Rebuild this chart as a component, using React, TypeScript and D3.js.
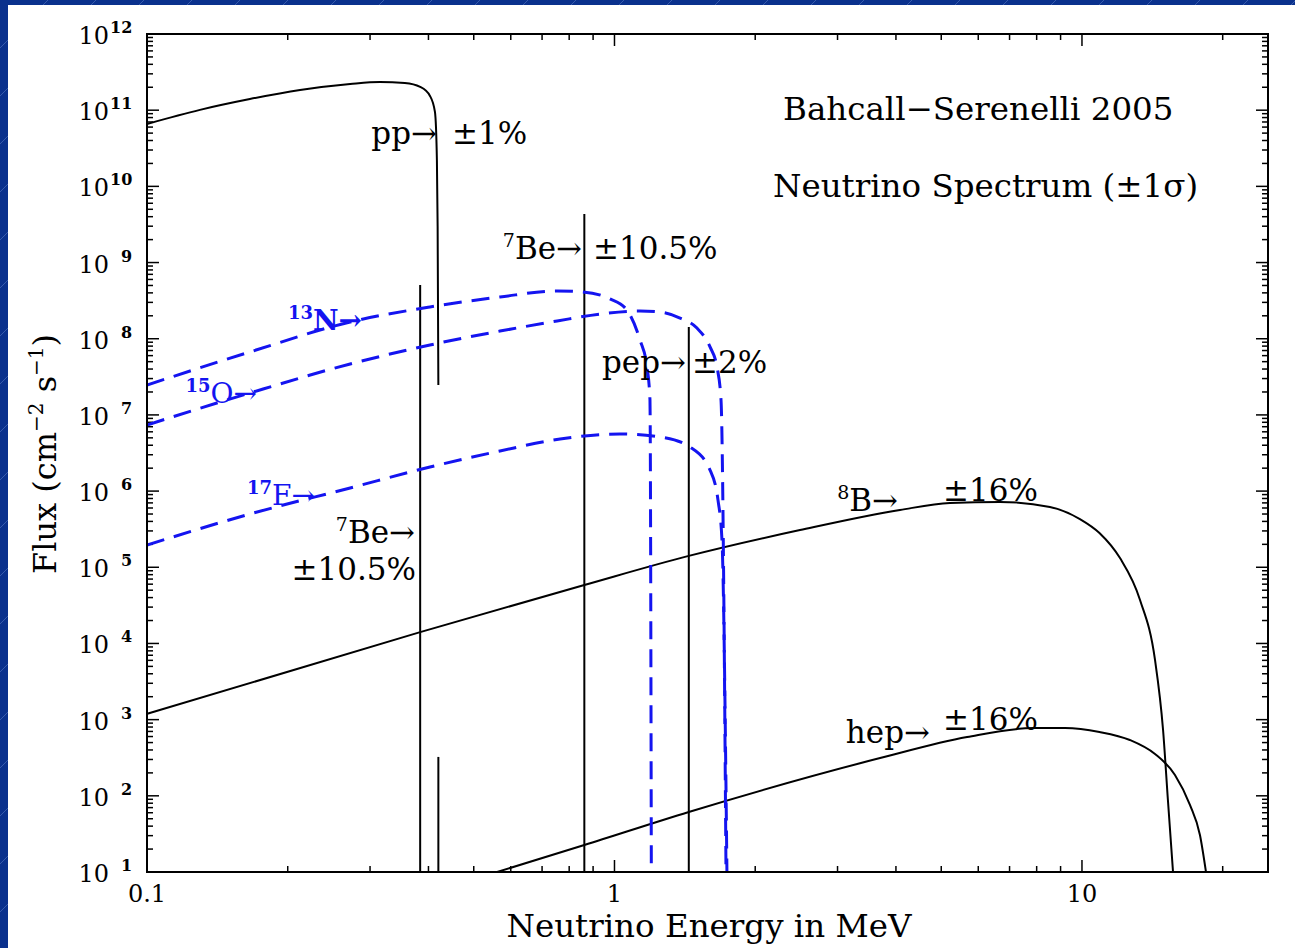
import React from 'react';
import * as d3 from 'd3';

const W = 1295;
const H = 948;

// Energies in MeV, fluxes in cm^-2 s^-1 (MeV^-1 for continuum sources)
const ppSpectrum: [number, number][] = [
  [0.1, 6.6e10], [0.1298, 1.01e11], [0.166, 1.4e11], [0.2125, 1.84e11], [0.272, 2.21e11], [0.315, 2.35e11],
  [0.356, 2.27e11], [0.384, 2.02e11], [0.403, 1.54e11], [0.413, 9.5e10], [0.417, 2.2e10], [0.4185, 3e9], [0.42, 2.47e7],
];
const ppTail: [number, number][] = [[0.42, 324], [0.42, 10]];
const n13Spectrum: [number, number][] = [
  [0.1, 2.47e7], [0.166, 6.7e7], [0.272, 1.66e8], [0.403, 2.61e8], [0.569, 3.53e8], [0.754, 4.24e8],
  [0.856, 4.11e8], [0.978, 3.33e8], [1.063, 2.38e8], [1.134, 9.6e7], [1.174, 4.25e7], [1.191, 1.57e7], [1.199, 10],
];
const o15Spectrum: [number, number][] = [
  [0.1, 7.38e6], [0.166, 1.94e7], [0.272, 4.66e7], [0.403, 8.28e7], [0.569, 1.26e8], [0.754, 1.71e8],
  [0.931, 2.11e8], [1.134, 2.31e8], [1.251, 2.24e8], [1.381, 1.87e8], [1.501, 1.38e8], [1.601, 7.8e7],
  [1.657, 4.25e7], [1.69, 1.57e7], [1.732, 10],
];
const f17Spectrum: [number, number][] = [
  [0.1, 1.96e5], [0.166, 5.0e5], [0.272, 1.1e6], [0.403, 2.07e6], [0.569, 3.36e6], [0.765, 4.83e6],
  [1.027, 5.62e6], [1.251, 5.13e6], [1.45, 3.79e6], [1.601, 1.89e6], [1.665, 7.6e5], [1.698, 2.28e5], [1.74, 10],
];
const b8Spectrum: [number, number][] = [
  [0.1, 1.19e3], [0.384, 1.41e4], [0.862, 5.85e4], [1.442, 1.41e5], [2.494, 3.08e5], [4.08, 5.65e5],
  [5.22, 6.98e5], [6.68, 7.2e5], [8.54, 6.18e5], [9.9, 4.3e5], [10.9, 2.82e5], [12.06, 1.32e5],
  [13.31, 3.72e4], [14.33, 6.07e3], [14.91, 731], [15.27, 88], [15.66, 10],
];
const hepSpectrum: [number, number][] = [
  [0.561, 10], [0.862, 22.6], [1.442, 61.4], [3.7, 313], [5.68, 591], [7.86, 776], [9.2, 776], [10.9, 689],
  [12.66, 541], [14.33, 354], [15.81, 188], [17.02, 76], [17.88, 30.6], [18.42, 10],
];
// Mono-energetic lines: [energy, flux]
const lineSources: [number, number][] = [
  [0.384, 5.07e8], [0.862, 4.34e9], [1.442, 1.43e8],
];
const yExponents = [1, 2, 3, 4, 5, 6, 7, 8, 9, 10, 11, 12];
const xTickLabels: [number, string][] = [[0.1, '0.1'], [1, '1'], [10, '10']];

const L = 147, R = 1268, T = 34, B = 872;
const BLUE = '#1414f0';
const FONT = "'DejaVu Serif', serif";

export default function App() {
  const x = d3.scaleLog().domain([0.1, 25]).range([L, R]);
  const y = d3.scaleLog().domain([10, 1e12]).range([B, T]);
  const line = d3.line<[number, number]>().x(d => x(d[0])).y(d => y(d[1])).curve(d3.curveMonotoneX);
  const straight = d3.line<[number, number]>().x(d => x(d[0])).y(d => y(d[1]));

  const xTicks: { v: number; major: boolean }[] = [];
  [0.1, 1, 10].forEach(d => {
    for (let k = 1; k <= 9; k++) {
      const v = k * d;
      if (v >= 0.1 && v <= 25) xTicks.push({ v, major: k === 1 });
    }
  });
  const yTicks: { v: number; major: boolean }[] = [];
  for (let e = 1; e <= 11; e++) {
    for (let k = 1; k <= 9; k++) yTicks.push({ v: k * Math.pow(10, e), major: k === 1 });
  }
  yTicks.push({ v: 1e12, major: true });

  const sup = (s: string, size: number, up: number, weight = 'normal') => (
    <tspan fontSize={size} dy={-up} fontWeight={weight}>{s}</tspan>
  );

  return (
    <div style={{ position: 'absolute', left: 0, top: 0 }}>
      <svg width={W} height={H} viewBox={`0 0 ${W} ${H}`} fontFamily={FONT}>
        <defs>
          <pattern id="bgp" width="48" height="48" patternUnits="userSpaceOnUse">
            <rect width="48" height="48" fill="#0a318d" />
            <path d="M0,48 L48,0" stroke="#5b7bc4" strokeWidth="0.8" opacity="0.7" />
          </pattern>
          <clipPath id="plotclip">
            <rect x={L} y={T} width={R - L} height={B - T} />
          </clipPath>
        </defs>
        <rect x={0} y={0} width={W} height={H} fill="url(#bgp)" />
        <rect x={8} y={5} width={W - 8} height={H - 5} fill="#ffffff" />

        {/* ticks */}
        <g stroke="#000" strokeWidth={1.5}>
          {xTicks.map((t, i) => (
            <g key={'xt' + i}>
              <line x1={x(t.v)} x2={x(t.v)} y1={B} y2={B - (t.major ? 12 : 6)} />
              <line x1={x(t.v)} x2={x(t.v)} y1={T} y2={T + (t.major ? 12 : 6)} />
            </g>
          ))}
          {yTicks.map((t, i) => (
            <g key={'yt' + i}>
              <line x1={L} x2={L + (t.major ? 12 : 6)} y1={y(t.v)} y2={y(t.v)} />
              <line x1={R} x2={R - (t.major ? 12 : 6)} y1={y(t.v)} y2={y(t.v)} />
            </g>
          ))}
        </g>

        {/* curves */}
        <g clipPath="url(#plotclip)" fill="none">
          {lineSources.map((d, i) => (
            <line key={'ls' + i} x1={x(d[0])} x2={x(d[0])} y1={y(d[1])} y2={B} stroke="#000" strokeWidth={2} />
          ))}
          <path d={line(ppSpectrum) || ''} stroke="#000" strokeWidth={2} />
          <path d={straight(ppTail) || ''} stroke="#000" strokeWidth={2} />
          <path d={line(b8Spectrum) || ''} stroke="#000" strokeWidth={2} />
          <path d={line(hepSpectrum) || ''} stroke="#000" strokeWidth={2} />
          <path d={line(n13Spectrum) || ''} stroke={BLUE} strokeWidth={3} strokeDasharray="18 10" />
          <path d={line(o15Spectrum) || ''} stroke={BLUE} strokeWidth={3} strokeDasharray="18 10" />
          <path d={line(f17Spectrum) || ''} stroke={BLUE} strokeWidth={3} strokeDasharray="18 10" />
        </g>

        <rect x={L} y={T} width={R - L} height={B - T} fill="none" stroke="#000" strokeWidth={2} />

        {/* y tick labels */}
        {yExponents.map(e => (
          <g key={'yl' + e} fontSize={24} fill="#000">
            <text x={109} y={y(Math.pow(10, e)) + 10} textAnchor="end">10</text>
            <text x={e >= 10 ? 110 : 121} y={y(Math.pow(10, e)) - 1} fontSize={16} fontWeight="bold">{e}</text>
          </g>
        ))}
        {/* x tick labels */}
        {xTickLabels.map(([v, s]) => (
          <text key={'xl' + s} x={x(v)} y={902} textAnchor="middle" fontSize={24}>{s}</text>
        ))}

        {/* axis titles */}
        <text x={709} y={937} textAnchor="middle" fontSize={32.5}>Neutrino Energy in MeV</text>
        <text transform="translate(56,454) rotate(-90)" textAnchor="middle" fontSize={32}>
          Flux (cm{sup('−2', 20, 13)}<tspan dy={13}> s</tspan>{sup('−1', 20, 13)}<tspan dy={13}>)</tspan>
        </text>

        {/* titles */}
        <text x={783} y={120} fontSize={32.5}>Bahcall−Serenelli 2005</text>
        <text x={773} y={197} fontSize={32.5}>Neutrino Spectrum (±1σ)</text>

        {/* annotations */}
        <g fontSize={31} fill="#000">
          <text x={437} y={144} textAnchor="end">pp→</text>
          <text x={452} y={144}>±1%</text>
          <text x={582} y={259} textAnchor="end">{sup('7', 19, 12)}<tspan dy={12}>Be→</tspan></text>
          <text x={593} y={259}>±10.5%</text>
          <text x={686} y={373} textAnchor="end">pep→</text>
          <text x={692} y={373}>±2%</text>
          <text x={415} y={543} textAnchor="end">{sup('7', 19, 12)}<tspan dy={12}>Be→</tspan></text>
          <text x={416} y={580} textAnchor="end">±10.5%</text>
          <text x={898} y={511} textAnchor="end">{sup('8', 19, 12)}<tspan dy={12}>B→</tspan></text>
          <text x={943} y={501}>±16%</text>
          <text x={930} y={743} textAnchor="end">hep→</text>
          <text x={943} y={730}>±16%</text>
        </g>
        <g fontSize={28} fill={BLUE}>
          <text x={362} y={330} textAnchor="end" fontWeight="bold">{sup('13', 18, 11, 'bold')}<tspan dy={11}>N→</tspan></text>
          <text x={257} y={403} textAnchor="end">{sup('15', 18, 11, 'bold')}<tspan dy={11}>O→</tspan></text>
          <text x={315} y={505} textAnchor="end">{sup('17', 18, 11, 'bold')}<tspan dy={11}>F→</tspan></text>
        </g>
      </svg>
    </div>
  );
}
